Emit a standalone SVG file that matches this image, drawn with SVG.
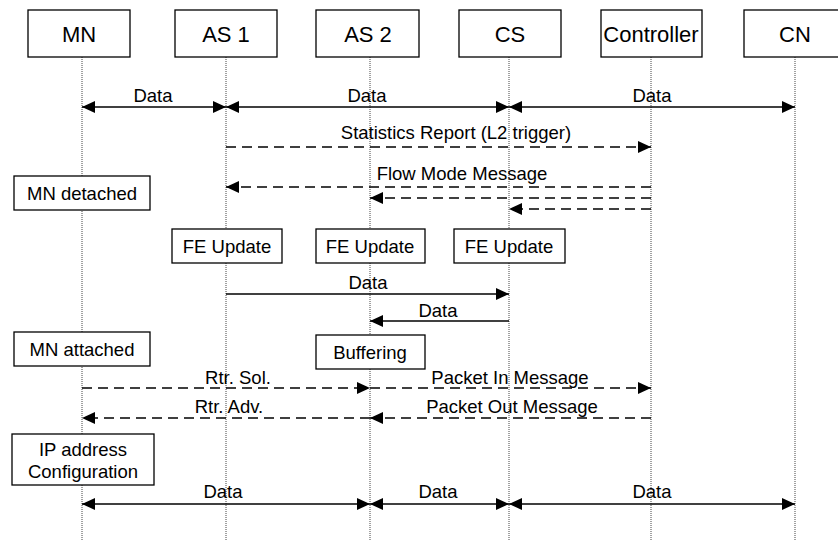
<svg xmlns="http://www.w3.org/2000/svg" width="838" height="541" viewBox="0 0 838 541">
<style>
  text { font-family: "Liberation Sans", Arial, sans-serif; fill: #000; text-anchor: middle; }
  .hdr { font-size: 22px; }
  .lbl { font-size: 18.5px; }
  .box { fill: #fff; stroke: #000; stroke-width: 1.3; }
  .life { stroke: #444; stroke-width: 1; stroke-dasharray: 1 1; fill: none; }
  .solid { stroke: #000; stroke-width: 1.5; fill: none; }
  .dash { stroke: #000; stroke-width: 1.5; fill: none; stroke-dasharray: 10 6; }
</style>
<defs>
  <marker id="ah" viewBox="0 0 13 12" refX="13" refY="6" markerWidth="13" markerHeight="12" markerUnits="userSpaceOnUse" orient="auto-start-reverse">
    <path d="M0,0 L13,6 L0,12 Z" fill="#000"/>
  </marker>
</defs>
<rect width="838" height="541" fill="#fff"/>

<g id="lifelines">
  <line class="life" x1="82" y1="57" x2="82" y2="541"/>
  <line class="life" x1="226" y1="57" x2="226" y2="541"/>
  <line class="life" x1="370" y1="57" x2="370" y2="541"/>
  <line class="life" x1="509" y1="57" x2="509" y2="541"/>
  <line class="life" x1="651" y1="57" x2="651" y2="541"/>
  <line class="life" x1="795" y1="57" x2="795" y2="541"/>
</g>

<g id="MN"><rect class="box" x="28" y="10" width="102" height="47"/><text class="hdr" x="79" y="42">MN</text></g>
<g id="AS1"><rect class="box" x="175" y="10" width="102" height="47"/><text class="hdr" x="226" y="42">AS 1</text></g>
<g id="AS2"><rect class="box" x="316" y="10" width="103" height="47"/><text class="hdr" x="368" y="42">AS 2</text></g>
<g id="CS"><rect class="box" x="459" y="10" width="102" height="47"/><text class="hdr" x="510" y="42">CS</text></g>
<g id="Controller"><rect class="box" x="601" y="10" width="101" height="47"/><text class="hdr" x="651" y="42">Controller</text></g>
<g id="CN"><rect class="box" x="744" y="10" width="102" height="47"/><text class="hdr" x="795" y="42">CN</text></g>

<g id="MN-detached"><rect class="box" x="14" y="176" width="136" height="34"/><text class="lbl" x="82" y="200">MN detached</text></g>
<g id="FE-Update-AS1"><rect class="box" x="172" y="229" width="110" height="34"/><text class="lbl" x="227" y="253">FE Update</text></g>
<g id="FE-Update-AS2"><rect class="box" x="316" y="229" width="109" height="34"/><text class="lbl" x="370" y="253">FE Update</text></g>
<g id="FE-Update-CS"><rect class="box" x="454" y="229" width="111" height="34"/><text class="lbl" x="509" y="253">FE Update</text></g>
<g id="MN-attached"><rect class="box" x="14" y="332" width="136" height="34"/><text class="lbl" x="82" y="356">MN attached</text></g>
<g id="Buffering"><rect class="box" x="316" y="335" width="109" height="34"/><text class="lbl" x="370" y="359">Buffering</text></g>
<g id="IP-config"><rect class="box" x="12" y="434" width="142" height="51"/><text class="lbl" x="83" y="456">IP address</text><text class="lbl" x="83" y="478">Configuration</text></g>

<g id="connectors">
  <line class="solid" x1="82" y1="107" x2="226" y2="107" marker-start="url(#ah)" marker-end="url(#ah)"/>
  <line class="solid" x1="226" y1="107" x2="509" y2="107" marker-start="url(#ah)" marker-end="url(#ah)"/>
  <line class="solid" x1="509" y1="107" x2="795" y2="107" marker-start="url(#ah)" marker-end="url(#ah)"/>
  <line class="dash" x1="226" y1="147" x2="651" y2="147" marker-end="url(#ah)"/>
  <line class="dash" x1="651" y1="187" x2="226" y2="187" marker-end="url(#ah)"/>
  <line class="dash" x1="651" y1="198" x2="370" y2="198" marker-end="url(#ah)"/>
  <line class="dash" x1="651" y1="209" x2="509" y2="209" marker-end="url(#ah)"/>
  <line class="solid" x1="226" y1="294" x2="509" y2="294" marker-end="url(#ah)"/>
  <line class="solid" x1="509" y1="321" x2="370" y2="321" marker-end="url(#ah)"/>
  <line class="dash" x1="82" y1="388" x2="370" y2="388" marker-end="url(#ah)"/>
  <line class="dash" x1="370" y1="388" x2="651" y2="388" marker-end="url(#ah)"/>
  <line class="dash" x1="370" y1="418" x2="82" y2="418" marker-end="url(#ah)"/>
  <line class="dash" x1="651" y1="418" x2="370" y2="418" marker-end="url(#ah)"/>
  <line class="solid" x1="82" y1="504" x2="370" y2="504" marker-start="url(#ah)" marker-end="url(#ah)"/>
  <line class="solid" x1="370" y1="504" x2="509" y2="504" marker-start="url(#ah)" marker-end="url(#ah)"/>
  <line class="solid" x1="509" y1="504" x2="795" y2="504" marker-start="url(#ah)" marker-end="url(#ah)"/>
</g>

<g id="labels">
  <text class="lbl" x="153" y="102">Data</text>
  <text class="lbl" x="367" y="102">Data</text>
  <text class="lbl" x="652" y="102">Data</text>
  <text class="lbl" x="456" y="139">Statistics Report (L2 trigger)</text>
  <text class="lbl" x="462" y="180">Flow Mode Message</text>
  <text class="lbl" x="368" y="289">Data</text>
  <text class="lbl" x="438" y="317">Data</text>
  <text class="lbl" x="238" y="384">Rtr. Sol.</text>
  <text class="lbl" x="510" y="384">Packet In Message</text>
  <text class="lbl" x="229" y="413">Rtr. Adv.</text>
  <text class="lbl" x="512" y="413">Packet Out Message</text>
  <text class="lbl" x="223" y="498">Data</text>
  <text class="lbl" x="438" y="498">Data</text>
  <text class="lbl" x="652" y="498">Data</text>
</g>
</svg>
